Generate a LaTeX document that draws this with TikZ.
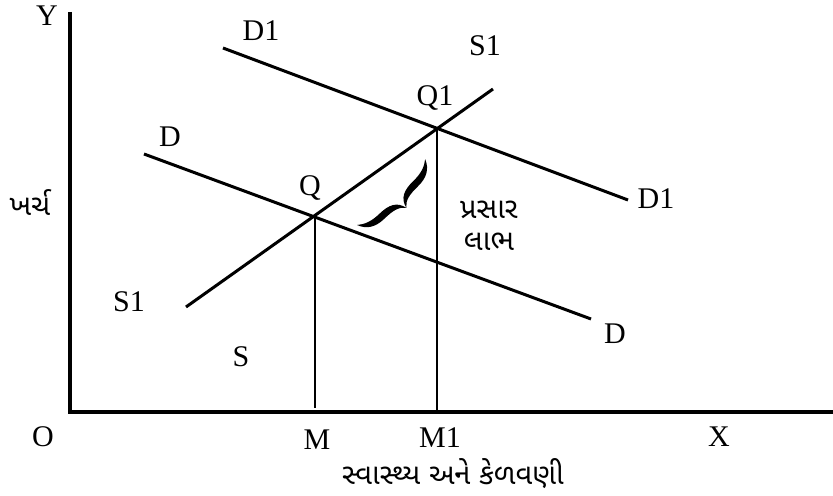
\documentclass[tikz,border=0pt]{standalone}
\usepackage{fontspec}
\setmainfont{Liberation Serif}
\newfontfamily\gujfont[Script=Gujarati]{Noto Sans Gujarati UI}
\begin{document}
\begin{tikzpicture}[
    x=0.5pt, y=-0.5pt,
    lbl/.style={font=\fontsize{15}{18}\selectfont, inner sep=0pt},
    guj/.style={font=\gujfont\fontsize{14.5}{16}\selectfont, inner sep=0pt, align=center},
    axis/.style={line width=1.75pt},
    curve/.style={line width=1.5pt},
    drop/.style={line width=1pt}
]
\useasboundingbox (0,0) rectangle (833,496);

% Axes
\coordinate (orig) at (70,412);
\coordinate (ytop) at (70,12);
\coordinate (xend) at (833,412);
\draw[axis] (ytop) -- (orig) -- (xend);

% Demand and supply lines
\coordinate (d1a) at (223,48);
\coordinate (d1b) at (628,200);
\coordinate (da) at (144,154);
\coordinate (db) at (591,319);
\coordinate (s1a) at (186,307);
\coordinate (s1b) at (493,89);
\draw[curve] (d1a) -- (d1b);
\draw[curve] (da) -- (db);
\draw[curve] (s1a) -- (s1b);

% Equilibria
\coordinate (q) at (315,216);
\coordinate (q1) at (437,128);
\coordinate (m) at (315,408);
\coordinate (m1) at (437,412);
\draw[drop] (q) -- (m);
\draw[drop] (q1) -- (m1);

% Brace
\coordinate (bra) at (357,225);
\begin{scope}[shift={(bra)}, rotate=44]
\fill (0,0) .. controls (6,5) and (13,7.5) .. (24,7.5)
    .. controls (37,7.5) and (45,11) .. (47.4,22)
    .. controls (49.8,11) and (57.8,7.5) .. (70.8,7.5)
    .. controls (81.8,7.5) and (88.8,5) .. (94.8,0)
    .. controls (90.8,10) and (82.8,14.5) .. (70.8,14.5)
    .. controls (58.8,14.5) and (51.8,16) .. (47.4,22)
    .. controls (43,16) and (36,14.5) .. (24,14.5)
    .. controls (12,14.5) and (4,10) .. (0,0) -- cycle;
\end{scope}

% Labels
\node[lbl] (ylab) at (47,16) {Y};
\node[lbl] (olab) at (43,437) {O};
\node[lbl] (mlab) at (317,440) {M};
\node[lbl] (m1lab) at (440,438) {M1};
\node[lbl] (xlab) at (719,437) {X};
\node[lbl] (d1top) at (261,31) {D1};
\node[lbl] (s1top) at (485,46) {S1};
\node[lbl] (q1lab) at (435,98) {Q1};
\node[lbl] (dtop) at (170,137) {D};
\node[lbl] (qlab) at (310,188) {Q};
\node[lbl] (d1right) at (656,199) {D1};
\node[lbl] (s1bot) at (129,302) {S1};
\node[lbl] (dbot) at (615,334) {D};
\node[lbl] (slab) at (241,357) {S};
\node[guj] (cost) at (30,203) {ખર્ચ};
\node[guj] (gain) at (489,226) {પ્રસાર\\લાભ};
\node[guj] (xtitle) at (453,474) {સ્વાસ્થ્ય અને કેળવણી};

\end{tikzpicture}
\end{document}
